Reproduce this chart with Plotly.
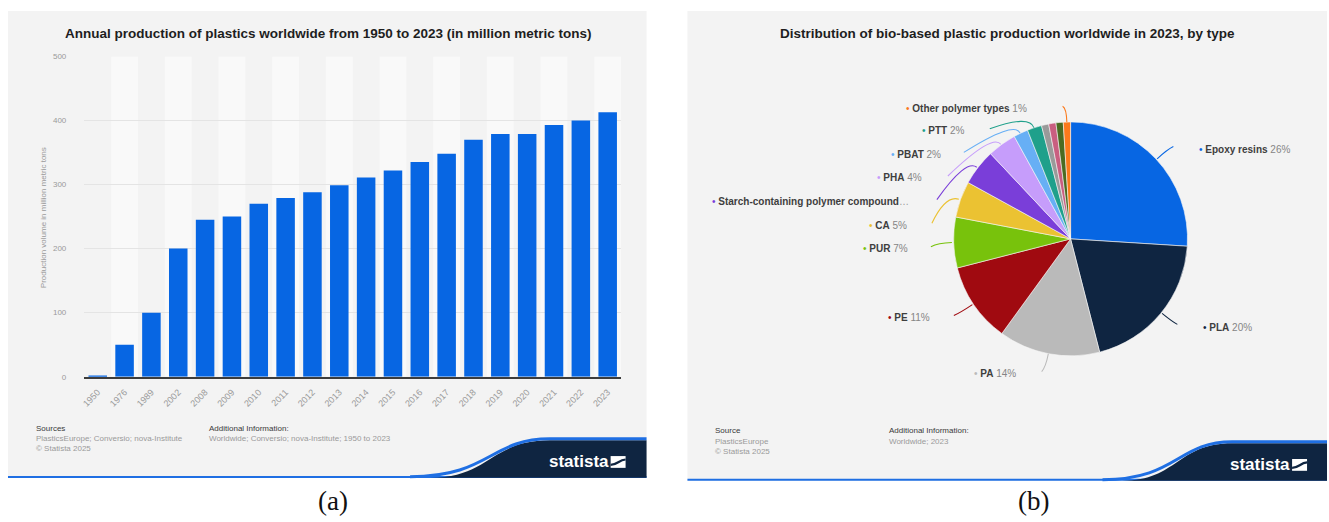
import math
import plotly.graph_objects as go

W, H = 1329, 522

# ---- data: annual plastics production (million metric tons) ----
years = ["1950", "1976", "1989", "2002", "2008", "2009", "2010", "2011", "2012", "2013",
         "2014", "2015", "2016", "2017", "2018", "2019", "2020", "2021", "2022", "2023"]
production = [1.5, 50, 100, 200, 245, 250, 270, 279, 288, 299,
              311, 322, 335, 348, 370, 379, 379, 393, 400, 413]
y_ticks = [0, 100, 200, 300, 400, 500]

# ---- data: bio-based plastic production by type, 2023 (%) ----
polymer_types = ["Epoxy resins", "PLA", "PA", "PE", "PUR", "CA",
                 "Starch-containing polymer compounds", "PHA", "PBAT", "PTT",
                 "PBS", "PP", "PET", "Other polymer types"]
polymer_shares = [26, 20, 14, 11, 7, 5, 5, 4, 2, 2, 1, 1, 1, 1]
polymer_colors = ["#0766e3", "#0f2541", "#bababa", "#a00a10", "#78c20c", "#ebc232",
                  "#7a3ed9", "#c69dfb", "#67aff5", "#1fa08b", "#9a9a9a", "#c95e80",
                  "#4b6b22", "#fb7a1c"]


def px(x):
    return x / W


def py(y):
    return 1 - y / H


def path(points_cmd):
    out = []
    for item in points_cmd:
        if isinstance(item, str):
            out.append(item)
        else:
            out.append(f"{px(item[0]):.5f},{py(item[1]):.5f}")
    return " ".join(out)


FONT = "Liberation Sans, Arial, sans-serif"
PANEL_BG = "#f3f3f3"
NAVY = "#0f2541"
BLUE = "#1f6fe3"

fig = go.Figure()
shapes = []
annotations = []

# ---- panel backgrounds ----
panels = [(5, 7, 645, 482), (686, 7, 1327, 485)]
for x0, y0, x1, y1 in panels:
    shapes.append(dict(type="rect", xref="paper", yref="paper", x0=px(x0), x1=px(x1),
                       y0=py(y1), y1=py(y0), fillcolor=PANEL_BG, line_width=0, layer="below"))

# ---- bar chart (a) ----
plot_left, plot_right, plot_top, plot_bottom = 81.5, 619.5, 53.3, 379.3
fig.add_trace(go.Bar(x=years, y=production, marker_color="#0766e3", marker_line_width=0,
                     xaxis="x", yaxis="y", hoverinfo="x+y"))

# alternating column bands
for i in range(len(years)):
    if i % 2 == 1:
        shapes.append(dict(type="rect", xref="x", yref="y", x0=i - 0.5, x1=i + 0.5,
                           y0=0, y1=y_ticks[-1], fillcolor="#f9f9f9", line_width=0,
                           layer="below"))

fig.update_layout(
    xaxis=dict(domain=[px(plot_left), px(plot_right)], anchor="y", type="category",
               tickangle=-45, tickfont=dict(family=FONT, size=9, color="#9a9a9a"),
               showline=True, linecolor="#3c3c3c", linewidth=1.6, showgrid=False,
               ticks="", ticklabelstandoff=5, fixedrange=True),
    yaxis=dict(domain=[py(plot_bottom), py(plot_top)], anchor="x", range=[0, y_ticks[-1]],
               tickvals=y_ticks, tickfont=dict(family=FONT, size=8, color="#9a9a9a"),
               showgrid=True, gridcolor="#e4e4e4", gridwidth=1, zeroline=False,
               showline=False, ticks="", ticklabelstandoff=17, fixedrange=True),
    bargap=0.31,
)

annotations.append(dict(text="Production volume in million metric tons", textangle=-90,
                        x=px(40), y=py(217), xref="paper", yref="paper", showarrow=False,
                        xanchor="center", yanchor="middle",
                        font=dict(family=FONT, size=8, color="#9a9a9a")))

# ---- titles ----
annotations.append(dict(text="<b>Annual production of plastics worldwide from 1950 to 2023 (in million metric tons)</b>",
                        x=px(326), y=py(30), xref="paper", yref="paper", showarrow=False,
                        xanchor="center", yanchor="middle",
                        font=dict(family=FONT, size=13.5, color="#1e1e1e")))
annotations.append(dict(text="<b>Distribution of bio-based plastic production worldwide in 2023, by type</b>",
                        x=px(1007), y=py(30), xref="paper", yref="paper", showarrow=False,
                        xanchor="center", yanchor="middle",
                        font=dict(family=FONT, size=13.5, color="#1e1e1e")))

# ---- pie chart (b) ----
cx, cy, r = 1070, 239, 119
fig.add_trace(go.Pie(labels=polymer_types, values=polymer_shares, sort=False,
                     direction="clockwise", rotation=0, textinfo="none",
                     marker=dict(colors=polymer_colors, line=dict(color="#f6f6f6", width=0.6)),
                     domain=dict(x=[px(cx - r), px(cx + r)], y=[py(cy + r), py(cy - r)]),
                     showlegend=False, hoverinfo="label+percent"))

# label placement: (anchor side, x, y, leader gap)
label_layout = {
    "Epoxy resins": ("left", 1197, 148, 24),
    "PLA": ("left", 1201, 329, 24),
    "PA": ("right", 1017, 376, 24),
    "PE": ("right", 931, 319, 22),
    "PUR": ("right", 909, 249, 21),
    "CA": ("right", 908, 225, 23),
    "Starch-containing polymer compounds": ("right", 910, 201, 26),
    "PHA": ("right", 923, 177, 24),
    "PBAT": ("right", 942, 153, 21),
    "PTT": ("right", 966, 129, 23),
    "Other polymer types": ("right", 1028, 106, 34),
}

total = sum(polymer_shares)
cum = 0
for name, share, color in zip(polymer_types, polymer_shares, polymer_colors):
    mid = (cum + share / 2) / total * 2 * math.pi
    cum += share
    if name not in label_layout:
        continue
    side, lx, ly, gap = label_layout[name]
    dx, dy = math.sin(mid), -math.cos(mid)
    sx, sy = cx + r * dx, cy + r * dy
    qx, qy = cx + (r + 14) * dx, cy + (r + 14) * dy
    if side == "right":
        ex, ey = lx + gap, ly - 2
    else:
        ex, ey = lx - gap, ly - 3
    shapes.append(dict(type="path", xref="paper", yref="paper",
                       path=path(["M", (sx, sy), "Q", (qx, qy), (ex, ey)]),
                       line=dict(color=color, width=1.1)))
    if len(name) > 34:
        body = f"<b>{name[:34]}</b><span style='color:#9a9a9a'>…</span>"
    else:
        body = f"<b>{name}</b> <span style='color:#858585'>{share}%</span>"
    annotations.append(dict(text=f"<span style='color:{color}'>•</span> {body}",
                            x=px(lx), y=py(ly), xref="paper", yref="paper",
                            xanchor=side, yanchor="middle", showarrow=False,
                            font=dict(family=FONT, size=10, color="#3e3e3e")))

# ---- footers ----
footers = [
    dict(x_src=31, x_add=204, y0=432, step=10.3,
         src=["Sources", "PlasticsEurope; Conversio; nova-Institute", "© Statista 2025"],
         add=["Additional Information:", "Worldwide; Conversio; nova-Institute; 1950 to 2023"],
         wave=(428, 548, 444, 482, 5, 645), logo_x=545),
    dict(x_src=712, x_add=886, y0=434, step=10.8,
         src=["Source", "PlasticsEurope", "© Statista 2025"],
         add=["Additional Information:", "Worldwide; 2023"],
         wave=(1122, 1232, 447, 485, 686, 1327), logo_x=1228),
]
for f in footers:
    for col_x, lines in ((f["x_src"], f["src"]), (f["x_add"], f["add"])):
        for k, t in enumerate(lines):
            annotations.append(dict(text=t, x=px(col_x), y=py(f["y0"] + k * f["step"]),
                                    xref="paper", yref="paper", xanchor="left",
                                    yanchor="middle", showarrow=False,
                                    font=dict(family=FONT, size=8,
                                              color="#3a3a3a" if k == 0 else "#9a9a9a")))
    wx0, wx1, wtop, wbot, left, right = f["wave"]
    mid_x = (wx0 + wx1) / 2
    # bottom rule
    shapes.append(dict(type="line", xref="paper", yref="paper", x0=px(left), x1=px(right),
                       y0=py(wbot - 0.8), y1=py(wbot - 0.8), line=dict(color=BLUE, width=2)))
    # navy wave block
    shapes.append(dict(type="path", xref="paper", yref="paper",
                       path=path(["M", (wx0, wbot), "C", (mid_x, wbot), (mid_x, wtop),
                                  (wx1, wtop), "L", (right, wtop), "L", (right, wbot), "Z"]),
                       fillcolor=NAVY, line_width=0))
    # blue swoosh edge
    shapes.append(dict(type="path", xref="paper", yref="paper",
                       path=path(["M", (wx0 - 20, wbot - 1), "C", (mid_x, wbot - 1),
                                  (mid_x, wtop - 1.5), (wx1, wtop - 1.5), "L", (right, wtop - 1.5)]),
                       line=dict(color=BLUE, width=3)))
    # wordmark + icon
    lx = f["logo_x"]
    ly = (wtop + wbot) / 2 + 3
    annotations.append(dict(text="<b>statista</b>", x=px(lx), y=py(ly), xref="paper",
                            yref="paper", xanchor="left", yanchor="middle", showarrow=False,
                            font=dict(family=FONT, size=17, color="white")))
    ix = lx + 64
    shapes.append(dict(type="rect", xref="paper", yref="paper", x0=px(ix), x1=px(ix + 15),
                       y0=py(ly + 6), y1=py(ly - 6), fillcolor="white", line_width=0))
    shapes.append(dict(type="path", xref="paper", yref="paper",
                       path=path(["M", (ix, ly + 3), "C", (ix + 7, ly + 3), (ix + 8, ly - 2),
                                  (ix + 15, ly - 2.5)]),
                       line=dict(color=NAVY, width=2.2)))

# ---- sub-figure captions ----
for cap, x in (("(a)", 331), ("(b)", 1033)):
    annotations.append(dict(text=cap, x=px(x), y=py(506), xref="paper", yref="paper",
                            xanchor="center", yanchor="middle", showarrow=False,
                            font=dict(family="Liberation Serif, Times New Roman, serif",
                                      size=27, color="#111111")))

fig.update_layout(
    width=W, height=H, margin=dict(l=0, r=0, t=0, b=0),
    paper_bgcolor="white", plot_bgcolor="rgba(0,0,0,0)",
    showlegend=False, shapes=shapes, annotations=annotations,
)

fig.write_html("out.html", config={"displayModeBar": False})
